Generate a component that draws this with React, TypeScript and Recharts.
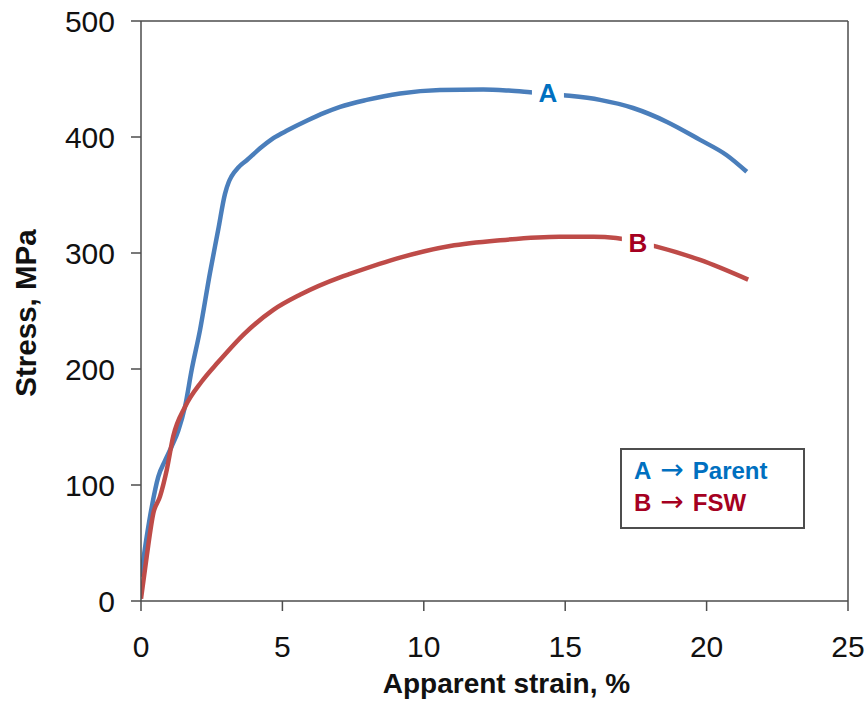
import React from 'react';
import { LineChart, Line, XAxis, YAxis, ReferenceLine, ReferenceDot, Label } from 'recharts';

const strainA = [0, 0.2, 0.38, 0.61, 0.85, 1.08, 1.32, 1.56, 1.79, 2.09, 2.44, 2.73, 2.97, 3.1, 3.2, 3.45, 3.74, 4.2, 4.68, 5.2, 5.86, 6.5, 7.04, 7.98, 9.16, 10.57, 12.1, 13.0, 13.76, 14.94, 16.23, 17.4, 18.6, 19.77, 20.7, 21.42];
const stressA = [21, 55, 81, 107, 121, 133, 147, 168, 199, 234, 283, 320, 351, 361, 366, 374, 380, 390, 399, 406, 414, 421, 426, 432, 437.5, 440.5, 441, 440, 438.5, 436, 432, 425, 413, 397.5, 384.5, 370];

const strainB = [0, 0.2, 0.44, 0.67, 0.91, 1.14, 1.56, 2.14, 2.73, 3.68, 4.68, 5.62, 7.04, 7.39, 9.16, 10.93, 12.7, 14.8, 16.0, 16.8, 18.23, 19.77, 21.47];
const stressB = [2, 38, 76, 90, 113, 142, 167.5, 189, 206, 231, 251, 264, 279, 282, 296, 306, 311, 314, 314, 313, 305.5, 294, 277];

const xTicks = [0, 5, 10, 15, 20, 25];
const yTicks = [0, 100, 200, 300, 400, 500];

const labelA = { x: 14.39, y: 438, text: 'A' };
const labelB = { x: 17.57, y: 308.6, text: 'B' };

const legendItems = [
  { key: 'A', name: 'Parent', color: '#0070C0' },
  { key: 'B', name: 'FSW', color: '#A50021' },
];

const dataA = strainA.map((x, i) => ({ x, y: stressA[i] }));
const dataB = strainB.map((x, i) => ({ x, y: stressB[i] }));

const FONT = '"Liberation Sans", Arial, sans-serif';
const AXIS = '#4d4d4d';

const makeTag = (text: string, color: string) => (props: any) => {
  const { cx, cy } = props;
  return (
    <g>
      <rect x={cx - 16} y={cy - 16} width={32} height={32} fill="#ffffff" />
      <text x={cx} y={cy} textAnchor="middle" dominantBaseline="central" fontFamily={FONT} fontWeight="bold" fontSize={26} fill={color}>
        {text}
      </text>
    </g>
  );
};

const LegendBox = () => (
  <div style={{ position: 'absolute', left: 620, top: 448, boxSizing: 'border-box', width: 185, height: 81, border: `2px solid ${AXIS}`, background: '#fff', padding: '5px 0 0 12px', fontFamily: FONT, fontWeight: 'bold', fontSize: 24, lineHeight: '32px', textAlign: 'left' }}>
    {legendItems.map((it) => (
      <div key={it.key} style={{ color: it.color, whiteSpace: 'nowrap' }}>
        {it.key}
        <span style={{ display: 'inline-block', fontFamily: '"DejaVu Sans", sans-serif', fontWeight: 'normal', fontSize: 28, lineHeight: '28px', margin: '0 9px 0 9px' }}>{'\u2192'}</span>
        {it.name}
      </div>
    ))}
  </div>
);

export default function App() {
  return (
    <div style={{ position: 'absolute', left: 0, top: 0, width: 868, height: 702, background: '#fff' }}>
      <LineChart width={868} height={702} margin={{ top: 21, right: 20, bottom: 0, left: 0 }}>
        <XAxis
          type="number"
          dataKey="x"
          domain={[0, 25]}
          ticks={xTicks}
          height={101}
          stroke={AXIS}
          strokeWidth={1.5}
          tickSize={10}
          tickMargin={25}
          tick={{ fill: '#111', fontSize: 30, fontFamily: FONT }}
          allowDataOverflow
        >
          <Label
            content={({ viewBox }: any) => (
              <text x={viewBox.x + viewBox.width / 2 + 12} y={693} textAnchor="middle" fontFamily={FONT} fontWeight="bold" fontSize={28} fill="#111">
                Apparent strain, %
              </text>
            )}
          />
        </XAxis>
        <YAxis
          type="number"
          domain={[0, 500]}
          ticks={yTicks}
          width={141}
          stroke={AXIS}
          strokeWidth={1.5}
          tickSize={10}
          tickMargin={16}
          tick={{ fill: '#111', fontSize: 30, fontFamily: FONT }}
          allowDataOverflow
        >
          <Label
            content={({ viewBox }: any) => {
              const cy = viewBox.y + viewBox.height / 2 + 2;
              return (
                <text x={25} y={cy} transform={`rotate(-90 25 ${cy})`} textAnchor="middle" dominantBaseline="central" fontFamily={FONT} fontWeight="bold" fontSize={29.5} fill="#111">
                  Stress, MPa
                </text>
              );
            }}
          />
        </YAxis>
        <ReferenceLine y={500} stroke={AXIS} strokeWidth={1.5} />
        <ReferenceLine x={25} stroke={AXIS} strokeWidth={1.5} />
        <Line data={dataA} dataKey="y" type="monotone" stroke="#4A7EBB" strokeWidth={4.5} dot={false} isAnimationActive={false} legendType="none" />
        <Line data={dataB} dataKey="y" type="monotone" stroke="#BE4B48" strokeWidth={4.5} dot={false} isAnimationActive={false} legendType="none" />
        <ReferenceDot x={labelA.x} y={labelA.y} r={0} shape={makeTag(labelA.text, '#0070C0')} />
        <ReferenceDot x={labelB.x} y={labelB.y} r={0} shape={makeTag(labelB.text, '#A50021')} />
      </LineChart>
      <LegendBox />
    </div>
  );
}
